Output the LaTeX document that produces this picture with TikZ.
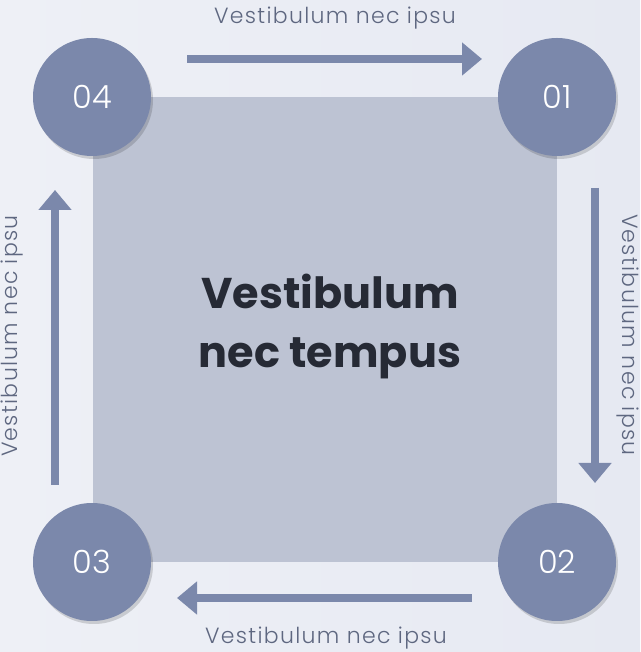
\documentclass[tikz,border=0pt]{standalone}
\usepackage{fontspec}
\setmainfont{Poppins}
\newfontfamily\lightfont{Poppins Light}[LetterSpace=6]
\newfontfamily\numfont{Poppins Light}
\usetikzlibrary{arrows.meta,shadows}
\definecolor{bgA}{HTML}{EEF0F6}
\definecolor{bgB}{HTML}{E6E9F2}
\definecolor{sq}{HTML}{BDC3D3}
\definecolor{circ}{HTML}{7B88AB}
\definecolor{lab}{HTML}{5E6780}
\definecolor{dark}{HTML}{262A35}
\tikzset{
  numcirc/.style={circle,fill=circ,minimum size=118pt,inner sep=0pt,text=white,
    font=\numfont\fontsize{32}{34}\selectfont,
    drop shadow={shadow xshift=2pt,shadow yshift=-3pt,opacity=0.15,fill=black}},
  flowarrow/.style={draw=circ,line width=8pt,-{Triangle[width=32pt,length=20pt]}},
  sidelabel/.style={text=lab,font=\lightfont\fontsize{22}{24}\selectfont,inner sep=0pt}
}
\begin{document}
\begin{tikzpicture}[x=1pt,y=1pt]
  \useasboundingbox (0,0) rectangle (640,652);
  \shade[left color=bgA,right color=bgB] (0,0) rectangle (640,652);
  \node[fill=sq,minimum width=464pt,minimum height=465pt,inner sep=0pt] (sq) at (325,322.5) {};
  \node[text=dark,font=\bfseries\fontsize{43}{59}\selectfont,align=center] (center) at (330,325) {Vestibulum\\nec tempus};
  \node[numcirc] (c4) at (92,555) {04};
  \node[numcirc] (c1) at (557,555) {01};
  \node[numcirc] (c3) at (92,90) {03};
  \node[numcirc] (c2) at (557,90) {02};
  \coordinate (t1) at (187,593); \coordinate (t2) at (482,593);
  \coordinate (r1) at (595,464); \coordinate (r2) at (595,169);
  \coordinate (b1) at (472,54);  \coordinate (b2) at (177,54);
  \coordinate (l1) at (55,167);  \coordinate (l2) at (55,462);
  \draw[flowarrow] (t1) -- (t2);
  \draw[flowarrow] (r1) -- (r2);
  \draw[flowarrow] (b1) -- (b2);
  \draw[flowarrow] (l1) -- (l2);
  \node[sidelabel] (lt) at (335,634) {Vestibulum nec ipsu};
  \node[sidelabel,rotate=-90] (lr) at (628,317) {Vestibulum nec ipsu};
  \node[sidelabel] (lb) at (326,14) {Vestibulum nec ipsu};
  \node[sidelabel,rotate=90] (ll) at (12,316) {Vestibulum nec ipsu};
\end{tikzpicture}
\end{document}
